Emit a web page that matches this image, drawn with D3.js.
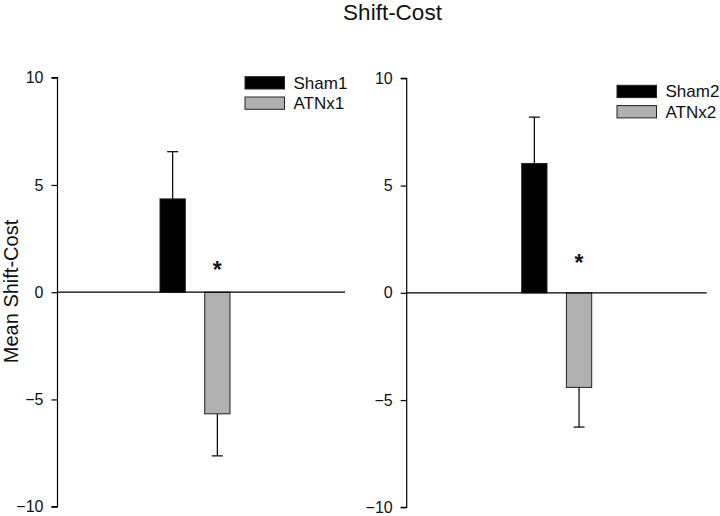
<!DOCTYPE html>
<html><head><meta charset="utf-8">
<script src="https://cdn.jsdelivr.net/npm/d3@7"></script>
<style>body{margin:0;background:#fff;}text{font-family:"Liberation Sans",Arial,sans-serif;}</style>
</head><body>
<svg id="c" width="720" height="516"></svg>
<script>
const groups = ["Sham", "ATNx"];
const panel1Labels = ["Sham1", "ATNx1"];
const panel1Means = [4.35, -5.67];
const panel1Errors = [2.2, 1.96];
const panel1Star = 1.27;
const panel2Labels = ["Sham2", "ATNx2"];
const panel2Means = [6.03, -4.41];
const panel2Errors = [2.16, 1.85];
const panel2Star = 1.65;
const yTicks = [-10, -5, 0, 5, 10];
const colors = ["#000000", "#b0b0b0"];
const significant = [false, true];

const svg = d3.select("#c");
svg.append("text").attr("x", 392.5).attr("y", 19.5).attr("text-anchor", "middle")
  .attr("font-size", 22.5).attr("fill", "#111").text("Shift-Cost");
svg.append("text").attr("transform", "translate(18,291.5) rotate(-90)")
  .attr("text-anchor", "middle").attr("font-size", 20).attr("fill", "#111").text("Mean Shift-Cost");

const panels = [
  {labels: panel1Labels, means: panel1Means, errs: panel1Errors, star: panel1Star, axisX: 57.5, top: 77.7, bottom: 506.7, barL: 160, barR: 230, endX: 345, legX: 245, legY: 76.7},
  {labels: panel2Labels, means: panel2Means, errs: panel2Errors, star: panel2Star, axisX: 406.7, top: 78.3, bottom: 507.3, barL: 521.7, barR: 591.7, endX: 706.7, legX: 617, legY: 85.3}
];

panels.forEach(p => {
  const y = d3.scaleLinear().domain([-10, 10]).range([p.bottom, p.top]);
  const x = d3.scaleBand().domain(groups).range([p.barL, p.barR]).paddingInner(0.434).paddingOuter(0);
  const g = svg.append("g");
  const ax = g.append("g").attr("transform", `translate(${p.axisX},0)`)
    .call(d3.axisLeft(y).tickValues(yTicks).tickSize(6).tickPadding(8).tickFormat(d3.format("d")));
  ax.selectAll(".tick line").attr("stroke", "#000").attr("stroke-width", 1.2);
  ax.selectAll(".tick text").attr("font-size", 16).attr("font-family", "Liberation Sans, Arial, sans-serif").attr("fill", "#111");
  ax.select("path.domain").attr("stroke", "#000").attr("stroke-width", 1.2).attr("d", `M-6,${p.top}H0V${p.bottom}H-6`);

  const data = groups.map((gname, i) => ({g: gname, m: p.means[i], e: p.errs[i], i}));
  data.forEach(d => {
    const cx = x(d.g) + x.bandwidth() / 2;
    const tip = d.m + Math.sign(d.m) * d.e;
    g.append("line").attr("x1", cx).attr("x2", cx).attr("y1", y(d.m)).attr("y2", y(tip)).attr("stroke", "#000").attr("stroke-width", 1.2);
    g.append("line").attr("x1", cx - 5.5).attr("x2", cx + 5.5).attr("y1", y(tip)).attr("y2", y(tip)).attr("stroke", "#000").attr("stroke-width", 1.2);
  });
  g.selectAll("rect.bar").data(data).enter().append("rect")
    .attr("x", d => x(d.g)).attr("width", x.bandwidth())
    .attr("y", d => y(Math.max(0, d.m))).attr("height", d => Math.abs(y(d.m) - y(0)))
    .attr("fill", d => colors[d.i]).attr("stroke", "#222").attr("stroke-width", 1);
  g.append("line").attr("x1", p.axisX).attr("x2", p.endX).attr("y1", y(0)).attr("y2", y(0)).attr("stroke", "#000").attr("stroke-width", 1.2);
  data.filter(d => significant[d.i]).forEach(d => {
    g.append("text").attr("x", x(d.g) + x.bandwidth() / 2).attr("y", y(p.star) + 13.5)
      .attr("text-anchor", "middle").attr("font-size", 23).attr("font-weight", "bold").attr("fill", "#111").text("*");
  });
  p.labels.forEach((lab, i) => {
    const ly = p.legY + i * 20.3;
    g.append("rect").attr("x", p.legX).attr("y", ly).attr("width", 39.5).attr("height", 12.3)
      .attr("fill", colors[i]).attr("stroke", "#222").attr("stroke-width", 1);
    g.append("text").attr("x", p.legX + 48.5).attr("y", ly + 12).attr("font-size", 17).attr("fill", "#111").text(lab);
  });
});
</script>
</body></html>
